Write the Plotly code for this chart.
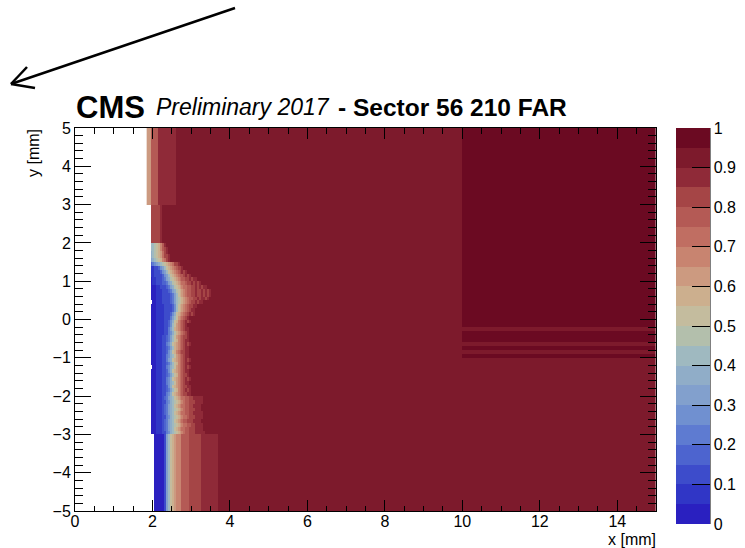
import numpy as np
import plotly.graph_objects as go

# ---------------------------------------------------------------------------
# Efficiency map of the sector 56 / 210 FAR detector plane
# ---------------------------------------------------------------------------
X_LO, X_HI, X_STEP = 1.85, 15.0, 0.05   # column edges (mm)
Y_LO, Y_HI, Y_STEP = -5.0, 5.0, 0.1     # row edges (mm)

# efficiency class k -> value in [0.05k, 0.05k + 0.05)
LEVELS = "0123456789ABCDEFGHIJ"
BULK = "I"

# Sensor-edge region: one code per 0.05 mm column starting at x = 1.85 mm,
# rows from y = +5 mm downwards as (row count, codes); '.' = no entries.
EDGE_PROFILE = [
    (20, "CCFFFFHHHHHHHHH"),                      # y  5.0 .. 3.0
    (10, "..GGGGGH"),                             # y  3.0 .. 2.0
    (1, "..889ABDFH"),
    (1, "..889ABDFGH"),
    (1, "..789ABCEGH"),
    (1, "..789ABCEGGH"),
    (1, "..6789ABDEGH"),
    (1, "..3456789ABCDEGGH"),
    (1, "..11223568ABCDEFGGH"),
    (1, "..112223568ABCDEFGHGH"),
    (1, "..1122223568ABCDEFFGHGH"),
    (1, "..01122234679ABCDEFFGGHGHH"),
    (1, "..011222334679ABCDEEFGGHGHGH"),
    (1, "..0001122234679ABCDEEFFGGHGHGHH"),
    (1, "..00011122234679ABCDEFFGGHGGHGHGH"),
    (1, "..00011122223468ABCDEFFGGHGGHGHGH"),
    (1, "..000111222234689ABCDEFFGGHGHHGH"),
    (1, "...00111222234689ABCDEFGGHGHH"),
    (1, "..00011112222358ABCDEFGGHH"),
    (1, "..00011112222358ABCDEFGHH"),
    (1, "..0001111222357ABCDEFGHGH"),
    (1, "..0001111222468ACDEFGH"),
    (1, "..000111122357ABDEFGHGH"),
    (1, "..000111122358ACDEFGH"),
    (1, "..000111122468BCDEFGHH"),
    (1, "..0001111224579BCDEFGH"),
    (1, "..000111223468ACDEFGGH"),
    (1, "..000111223468ABDEFGHH"),
    (1, "..00011122457ABCDEFGHGH"),
    (1, "..000111223468BCDEFGHH"),
    (1, "..00011122357ABDEFGGHH"),
    (1, "..000111224578ACDEFGHH"),
    (1, "..00011122467ABCDEFGHGH"),
    (1, "..000111223468ABDEFGHH"),
    (1, "...00111224578ACDEFGHGH"),
    (1, "..00011122357ABCDEFGHH"),
    (1, "..000111223468ABDEFGGH"),
    (1, "..00011122457ABCDEFGHGH"),
    (1, "..000111224578ACDEFGHH"),
    (1, "..00011122357ABCDEFGGHH"),
    (1, "..000111223468ABDEFGHGH"),
    (1, "..00011122457ABCDEFGGHH"),
    (1, "..000111234678ABCDEEFFGGHHHHH"),
    (1, "..0001112245789ABCDEFFGGGHHHH"),
    (1, "..000111234678ABCDEEFFGGHHHH"),
    (1, "..0001112346789ABCDEFFGGGHHH"),
    (1, "..000111234678ABCDEEFFGGHHHHH"),
    (1, "..0001112245789ABCDEEFGGGHHHH"),
    (1, "..000111234678ABCDEFFGGGHHHH"),
    (1, "..0001112346789ABCDEEFFGGHHHH"),
    (1, "..000111234678ABCDEEFFGGGHHHH"),
    (1, "..0001112245789ABCDEFFGGGHHHHH"),
    (20, "....00000268ABCDDDFFFFGGGGGGHHHHHHHHH"),  # y -3.0 .. -5.0
]

# Region x >= 10 mm, rows from y = +5 mm downwards as (row count, code)
FAR_X = 10.0
FAR_BANDS = [(52, "J"), (1, "I"), (3, "J"), (1, "I"), (1, "J"),
             (1, "I"), (1, "J"), (40, "I")]

# colour of each efficiency class, from 0 to 1
PALETTE = [
    "#2a20c0", "#3036c6", "#3d4ccb", "#4d64cf", "#5e7bd1",
    "#7090d0", "#82a0cd", "#90adc8", "#9fb9c0", "#b3bfac",
    "#c4bc9e", "#ccaf8e", "#cc9a80", "#c88470", "#c06e62",
    "#b45a55", "#a54546", "#8f2a38", "#7d1a2c", "#6b0a22",
]

CBAR_TICKS = [0, 0.1, 0.2, 0.3, 0.4, 0.5, 0.6, 0.7, 0.8, 0.9, 1]
CBAR_LABELS = ["0", "0.1", "0.2", "0.3", "0.4", "0.5", "0.6", "0.7", "0.8", "0.9", "1"]

# ---------------------------------------------------------------------------
# build the z table
# ---------------------------------------------------------------------------
nx = int(round((X_HI - X_LO) / X_STEP))
ny = int(round((Y_HI - Y_LO) / Y_STEP))
x_edges = X_LO + X_STEP * np.arange(nx + 1)
y_edges = Y_LO + Y_STEP * np.arange(ny + 1)

edge_rows = [codes for n, codes in EDGE_PROFILE for _ in range(n)]
far_rows = [code for n, code in FAR_BANDS for _ in range(n)]
far_col = int(round((FAR_X - X_LO) / X_STEP))

z_top_down = np.full((ny, nx), np.nan)
for i, (codes, far) in enumerate(zip(edge_rows, far_rows)):
    line = codes.ljust(far_col, BULK)[:far_col] + far * (nx - far_col)
    for j, ch in enumerate(line):
        if ch != ".":
            z_top_down[i, j] = (LEVELS.index(ch) + 0.5) / len(LEVELS)
z = z_top_down[::-1]

n_lv = len(PALETTE)
colorscale = []
for k, c in enumerate(PALETTE):
    colorscale += [[k / n_lv, c], [(k + 1) / n_lv, c]]

# ---------------------------------------------------------------------------
# figure
# ---------------------------------------------------------------------------
W, H = 745, 548
L, R, T, B = 75, 89, 128, 37
PW, PH = W - L - R, H - T - B
FONT = "Liberation Sans, Arial, Helvetica, sans-serif"


def paper(px, py):
    return (px - L) / PW, (H - B - py) / PH


cb_left, _ = paper(676, 0)

fig = go.Figure(
    go.Heatmap(
        x=x_edges, y=y_edges, z=z,
        zmin=0, zmax=1, colorscale=colorscale,
        hoverongaps=False,
        colorbar=dict(
            x=cb_left, xanchor="left", xpad=0,
            y=1, yanchor="top", ypad=0,
            thickness=34, thicknessmode="pixels",
            len=396, lenmode="pixels",
            outlinewidth=0,
            tickmode="array", tickvals=CBAR_TICKS, ticktext=CBAR_LABELS,
            ticks="inside", ticklen=18, tickwidth=1, tickcolor="black",
            tickfont=dict(family=FONT, size=16, color="black"),
        ),
    )
)

axis_common = dict(
    showgrid=False, zeroline=False, showline=True, linecolor="black",
    linewidth=1, mirror="ticks", ticks="inside", tickcolor="black",
    tickwidth=1, automargin=False,
    tickfont=dict(family=FONT, size=16, color="black"),
)
fig.update_xaxes(range=[0, 15], tick0=0, dtick=2, ticklen=11,
                 ticklabelstandoff=-4,
                 minor=dict(dtick=0.5, ticks="inside", ticklen=5.5,
                            tickcolor="black", tickwidth=1),
                 **axis_common)
fig.update_yaxes(range=[-5, 5], tick0=0, dtick=1, ticklen=16,
                 minor=dict(dtick=0.2, ticks="inside", ticklen=8,
                            tickcolor="black", tickwidth=1),
                 **axis_common)

annotations = []
# headline
for px, text, size in [
    (74, "<b>CMS</b>", 31),
    (154, "<i>Preliminary 2017</i>", 23),
    (336, "<b>- Sector 56 210 FAR</b>", 24.5),
]:
    ax_, ay_ = paper(px, 107)
    annotations.append(dict(x=ax_, y=ay_, xref="paper", yref="paper",
                            xanchor="left", yanchor="middle", text=text,
                            showarrow=False,
                            font=dict(family=FONT, size=size, color="black")))
# axis titles
tx, ty = paper(657, 539.5)
annotations.append(dict(x=tx, y=ty, xref="paper", yref="paper",
                        xanchor="right", yanchor="middle", text="x [mm]",
                        showarrow=False, borderpad=0,
                        font=dict(family=FONT, size=16, color="black")))
tx, ty = paper(33, 127)
annotations.append(dict(x=tx, y=ty, xref="paper", yref="paper",
                        xanchor="center", yanchor="top", text="y [mm]",
                        textangle=-90, showarrow=False,
                        font=dict(family=FONT, size=16, color="black")))

shapes = []
# right-hand axis line of the colour bar
x0, y0 = paper(710, 128)
x1, y1 = paper(710, 524)
shapes.append(dict(type="line", xref="paper", yref="paper",
                   x0=x0, y0=y0, x1=x1, y1=y1,
                   line=dict(color="black", width=1)))
# pointer arrow above the title
tip = paper(11, 84)
tail = paper(235, 8)
arm_a = paper(35, 88)
arm_b = paper(27, 67)
for a, b in [(tail, tip), (arm_a, tip), (arm_b, tip)]:
    shapes.append(dict(type="line", xref="paper", yref="paper",
                       x0=a[0], y0=a[1], x1=b[0], y1=b[1],
                       line=dict(color="black", width=2.5)))

fig.update_layout(
    width=W, height=H,
    margin=dict(l=L, r=R, t=T, b=B, autoexpand=False),
    paper_bgcolor="white", plot_bgcolor="white",
    annotations=annotations, shapes=shapes,
    font=dict(family=FONT, color="black"),
)

fig.write_html("out.html")
